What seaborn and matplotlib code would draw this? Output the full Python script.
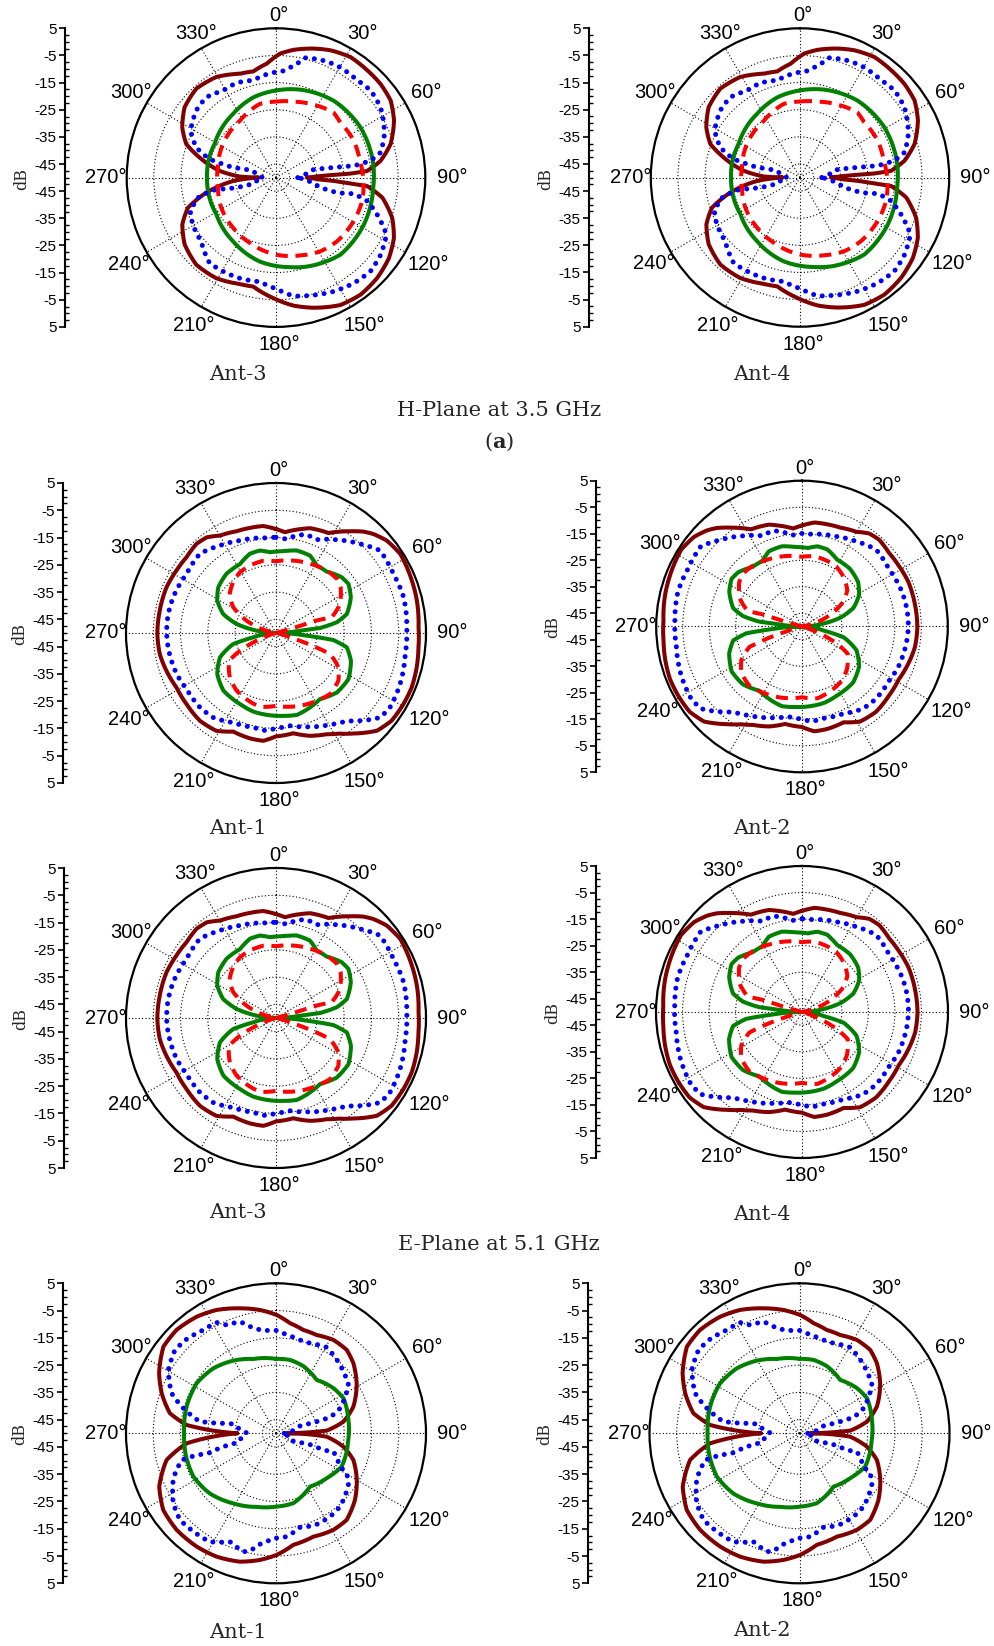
import numpy as np
import matplotlib
matplotlib.use("Agg")
import matplotlib.pyplot as plt
import seaborn as sns
from matplotlib.ticker import FixedLocator, MultipleLocator

# ---------------------------------------------------------------------------
# Radiation-pattern samples, listed along each trace as (angle deg, gain dB).
# Angles are clockwise from 0 deg at the top; they are kept continuous along
# each trace so the line does not jump across the 0/360 seam.
# ---------------------------------------------------------------------------

# H-plane at 3.5 GHz (Ant-3 / Ant-4)
h_brown = [(-90, -43.5), (-88.4, -36.7), (-83.2, -29.1), (-75.3, -20.9), (-69.5, -14.7),
           (-61.8, -10.8), (-52.4, -7.5), (-41.9, -6.0), (-30.7, -6.9), (-19.2, -9.5),
           (-12.1, -10.0), (-4.7, -7.9), (1.9, -4.3), (7.8, -2.5), (16.2, -0.5), (23.1, 1.0),
           (31.7, 2.2), (40.4, 1.9), (48.1, 1.7), (56.1, 0.9), (64.2, -1.7), (73.7, -6.0),
           (80.9, -11.0), (85.8, -16.3), (86.9, -22.6), (87.3, -28.8), (87.8, -33.7),
           (90, -38.6), (92.5, -34.0), (93.3, -28.8), (94.6, -22.5), (95.3, -16.3),
           (100.7, -10.1), (109.1, -4.7), (117.1, -1.2), (125.5, 1.1), (134.8, 2.5),
           (144.2, 3.2), (153.2, 2.6), (163.9, -0.1), (172.2, -2.4), (181.3, -5.6),
           (191.8, -9.0), (198.8, -8.6), (210.7, -6.9), (222.5, -6.5), (233.8, -8.3),
           (243.4, -11.4), (251.1, -15.7), (257.8, -23.7), (265.5, -34.2), (270, -43.5)]
h_blue = [(90, -42), (77.9, -36.5), (80.1, -28.4), (81.4, -21.0), (79.9, -14.7), (76.5, -10.4),
          (69.6, -7.5), (63.6, -5.6), (56.1, -3.6), (47.3, -2.6), (39.8, -3.3), (33.9, -3.1),
          (28.5, -3.0), (20.6, -3.6), (13.7, -4.6), (9.7, -8.0), (4.0, -10.6), (-5.2, -11.8),
          (-13.2, -13.2), (-22.7, -12.2), (-31.3, -12.5), (-41.0, -10.8), (-50.0, -11.6),
          (-61.2, -14.1), (-69.3, -18.6), (-74.5, -24.6), (-76.8, -33.8), (-73.6, -41.2),
          (-90, -45.3), (-105.2, -41.3), (-104.3, -35.0), (-101.1, -27.6), (-103.6, -21.0),
          (-111.3, -16.1), (-119.4, -14.8), (-130.4, -13.8), (-142.2, -10.1), (-152.6, -10.4),
          (-160.2, -10.6), (-171.2, -11.2), (-180.3, -9.0), (-188.4, -5.9), (-196.2, -4.8),
          (-206.8, -3.0), (-216.4, -1.7), (-225.2, -1.0), (-233.6, -2.1), (-242.7, -4.2),
          (-250.0, -10.4), (-255.6, -15.3), (-258.3, -20.7), (-256.1, -26.9), (-257.2, -33.3),
          (-270, -42)]
h_red = [(0, -22.0), (12.9, -21.3), (27.2, -19.8), (41.4, -18.0), (49.3, -18.8), (64.6, -18.3),
         (78.7, -18.5), (93.3, -17.7), (105.2, -17.1), (119.3, -17.2), (136.2, -17.5),
         (149, -18.3), (162.8, -20.0), (180, -21.6), (201.8, -24.1), (220.5, -25.7),
         (241.1, -27.0), (259.8, -28.3), (279.8, -28.3), (302.3, -26.9), (327.6, -25.2),
         (347.7, -22.2), (360, -22.0)]
h_green = [(0, -17.9), (15.4, -16.4), (36.8, -14.6), (59.2, -13.8), (78.2, -13.8), (95.9, -14.0),
           (118.1, -13.3), (140.1, -13.0), (160.8, -15.3), (171, -16.6), (190.9, -18.5),
           (214, -21.7), (238.3, -24.2), (270, -24.6), (286.7, -24.3), (298.7, -24.2),
           (326, -21.7), (344.2, -19.3), (360, -17.9)]

# E-plane at 5.1 GHz, Ant-1 / Ant-3
e1_brown = [(0, -11.9), (5.1, -12.9), (13.9, -10.7), (18.0, -9.6), (27.7, -8.6), (32, -6.2),
            (36.0, -3.9), (40.8, -0.9), (44.5, 0.9), (50.2, 2.9), (57.5, 4.0), (63.3, 3.7),
            (68.9, 3.4), (77.1, 3.0), (87.7, 2.3), (95.8, 2.5), (103.7, 3.1), (111.8, 3.6),
            (119.1, 3.5), (127.2, 3.2), (134.1, 1.5), (142.4, -3.5), (148, -6.5), (153.4, -8.5),
            (161.7, -10.3), (170.2, -12.7), (180, -12.1), (186.7, -10.2), (193.9, -10.2),
            (203.5, -10.6), (211.3, -8.0), (220.9, -7.4), (231.5, -8.1), (241.3, -8.4),
            (251, -7.5), (259.7, -6.7), (269.5, -6.5), (280.7, -6.6), (292.7, -6.5),
            (302.1, -6.9), (310.3, -7.0), (318.3, -6.2), (324.1, -6.7), (330.1, -8.8),
            (338.9, -10.0), (346.1, -10.3), (353.2, -10.5), (360, -11.9)]
e1_blue = [(0, -14.9), (6.5, -15.4), (12, -13.4), (17.3, -12.2), (23.5, -12.7), (33.1, -9.2),
           (43.3, -5.1), (51.6, -1.3), (63.3, -1.8), (74.4, -1.4), (87.5, -2.0), (99.2, -2.0),
           (112.4, -0.8), (123.1, -0.1), (129, -0.8), (133.8, -3.9), (141.1, -8.6),
           (149.5, -11.0), (161.9, -13.8), (171.4, -15.6), (180, -15.1), (185.5, -14.0),
           (193.5, -14.4), (205.5, -13.6), (216.6, -11.4), (225.6, -11.0), (237.9, -11.3),
           (247.6, -10.6), (262.4, -10.1), (269.5, -9.9), (280, -9.9), (289.2, -10.1),
           (303.4, -10.7), (316.1, -9.7), (327.3, -11.9), (338.7, -13.6), (354.4, -15.0),
           (360, -14.9)]
e1_red = [(75, -50), (73.9, -43.4), (72.6, -35.7), (74.3, -28.8), (65.6, -24.2), (54.8, -21.0),
          (48.3, -20.1), (39.1, -20.5), (26.2, -21.7), (13.5, -22.7), (0, -23.7), (-9.9, -23.1),
          (-21.1, -23.5), (-30.7, -24.1), (-40.1, -25.6), (-51.3, -28.1), (-59, -31.8),
          (-67.2, -38.3), (-75.3, -45.2), (-80, -50), (100, -50), (107.2, -44.6),
          (108.9, -36.8), (111.3, -28.7), (118.8, -23.9), (127.4, -21.2), (138.5, -20.1),
          (149, -21.0), (161.7, -21.9), (180, -23.3), (192.3, -22.3), (204, -23.4),
          (214.3, -24.4), (226, -26.5), (239.3, -30.0), (243.9, -35.3), (248.4, -42.4),
          (255, -50)]
e1_green = [(90, -50), (84.4, -41.2), (83.5, -33.7), (80, -27.4), (75, -23.1), (64.5, -19.6),
            (55.9, -17.9), (49.7, -18.4), (39.6, -20.8), (31.1, -21.1), (23.7, -19.0),
            (14.1, -18.8), (5.1, -19.9), (-4.3, -20.3), (-11, -19.2), (-18.2, -19.4),
            (-27.6, -21.5), (-39.9, -21.7), (-51.6, -23.0), (-61.1, -25.4), (-70.2, -29.4),
            (-77.1, -35.2), (-83.1, -42.9), (-90, -50), (-100.8, -41.6), (-104.5, -33.8),
            (-113.5, -27.6), (-125, -23.7), (-137.6, -21.4), (-153.1, -20.8), (-163.9, -20.0),
            (-173.5, -19.8), (-185.1, -19.5), (-194.2, -19.0), (-204.6, -20.0),
            (-213.7, -20.9), (-225.6, -18.8), (-237.5, -18.5), (-249.7, -20.7),
            (-258.5, -23.5), (-263, -28.8), (-265, -38.7), (-270, -50)]

# E-plane at 5.1 GHz, Ant-2 / Ant-4
e2_brown = [(0, -11.9), (-5.1, -12.9), (-13.9, -10.7), (-18.0, -9.6), (-27.7, -8.6), (-32, -6.2),
            (-36.0, -3.9), (-40.8, -0.9), (-44.5, 0.9), (-50.2, 2.9), (-57.5, 4.0),
            (-63.3, 3.7), (-68.9, 3.4), (-77.1, 3.0), (-87.7, 2.3), (-95.8, 2.5),
            (-103.7, 3.1), (-111.8, 3.6), (-119.1, 3.5), (-127.2, 3.2), (-134.1, 1.5),
            (-142.4, -3.5), (-148, -6.5), (-153.4, -8.5), (-161.7, -10.3), (-170.2, -12.7),
            (-180, -12.1), (-186.7, -10.2), (-193.9, -10.2), (-203.5, -10.6), (-211.3, -8.0),
            (-220.9, -7.4), (-231.5, -8.1), (-241.3, -8.4), (-251, -7.5), (-259.7, -6.7),
            (-269.5, -6.5), (-280.7, -6.6), (-292.7, -6.5), (-302.1, -6.9), (-310.3, -7.0),
            (-318.3, -6.2), (-324.1, -6.7), (-330.1, -8.8), (-338.9, -10.0), (-346.1, -10.3),
            (-353.2, -10.5), (-360, -11.9)]
e2_blue = [(0, -14.9), (-6.5, -15.4), (-12, -13.4), (-17.3, -12.2), (-23.5, -12.7),
           (-33.1, -9.2), (-43.3, -5.1), (-51.6, -1.3), (-63.3, -1.8), (-74.4, -1.4),
           (-87.5, -2.0), (-99.2, -2.0), (-112.4, -0.8), (-123.1, -0.1), (-129, -0.8),
           (-133.8, -3.9), (-141.1, -8.6), (-149.5, -11.0), (-161.9, -13.8), (-171.4, -15.6),
           (-180, -15.1), (-185.5, -14.0), (-193.5, -14.4), (-205.5, -13.6), (-216.6, -11.4),
           (-225.6, -11.0), (-237.9, -11.3), (-247.6, -10.6), (-262.4, -10.1), (-269.5, -9.9),
           (-280, -9.9), (-289.2, -10.1), (-303.4, -10.7), (-316.1, -9.7), (-327.3, -11.9),
           (-338.7, -13.6), (-354.4, -15.0), (-360, -14.9)]
e2_red = [(-75, -50), (-73.9, -43.4), (-72.6, -35.7), (-74.3, -28.8), (-65.6, -24.2),
          (-54.8, -21.0), (-48.3, -20.1), (-39.1, -20.5), (-26.2, -21.7), (-13.5, -22.7),
          (0, -23.7), (9.9, -23.1), (21.1, -23.5), (30.7, -24.1), (40.1, -25.6), (51.3, -28.1),
          (59, -31.8), (67.2, -38.3), (75.3, -45.2), (80, -50), (-100, -50), (-107.2, -44.6),
          (-108.9, -36.8), (-111.3, -28.7), (-118.8, -23.9), (-127.4, -21.2), (-138.5, -20.1),
          (-149, -21.0), (-161.7, -21.9), (-180, -23.3), (-192.3, -22.3), (-204, -23.4),
          (-214.3, -24.4), (-226, -26.5), (-239.3, -30.0), (-243.9, -35.3), (-248.4, -42.4),
          (-255, -50)]
e2_green = [(-90, -50), (-84.4, -41.2), (-83.5, -33.7), (-80, -27.4), (-75, -23.1),
            (-64.5, -19.6), (-55.9, -17.9), (-49.7, -18.4), (-39.6, -20.8), (-31.1, -21.1),
            (-23.7, -19.0), (-14.1, -18.8), (-5.1, -19.9), (4.3, -20.3), (11, -19.2),
            (18.2, -19.4), (27.6, -21.5), (39.9, -21.7), (51.6, -23.0), (61.1, -25.4),
            (70.2, -29.4), (77.1, -35.2), (83.1, -42.9), (90, -50), (100.8, -41.6),
            (104.5, -33.8), (113.5, -27.6), (125, -23.7), (137.6, -21.4), (153.1, -20.8),
            (163.9, -20.0), (173.5, -19.8), (185.1, -19.5), (194.2, -19.0), (204.6, -20.0),
            (213.7, -20.9), (225.6, -18.8), (237.5, -18.5), (249.7, -20.7), (258.5, -23.5),
            (263, -28.8), (265, -38.7), (270, -50)]

# Bottom pair (Ant-1 / Ant-2)
f_brown = [(-90, -35.8), (-87.6, -27.0), (-84.7, -17.1), (-79.3, -10.4), (-70.7, -5.6),
           (-62.8, -1.8), (-52.4, 2.1), (-43.9, 2.6), (-34.2, 1.7), (-25.7, 0.2), (-16.1, -2.3),
           (-7.4, -4.4), (0.3, -6.6), (7.3, -9.3), (14.8, -10.8), (22.5, -11.0), (31.6, -9.8),
           (40.3, -9.9), (47.8, -11.7), (58.2, -15.2), (71, -20.0), (80.2, -24.9), (87, -31.4),
           (88.5, -38.8), (90, -46.1), (91.5, -38.8), (93.8, -31.4), (101.2, -24.8),
           (109, -20.0), (120, -15.8), (130.2, -12.1), (140.8, -9.0), (149.3, -8.8),
           (160.1, -9.7), (171.2, -8.6), (179.7, -5.4), (187.2, -3.2), (195.7, -1.1),
           (205.7, 0.2), (215, 0.7), (225.8, 0.8), (235.8, 0.0), (245.4, -2.9), (256.3, -8.7),
           (263.6, -17.0), (267, -27.0), (270, -35.8)]
f_blue = [(90, -47), (73, -40.8), (74.1, -35.8), (73.5, -29.3), (68.7, -24.8), (59.5, -19.9),
          (55.3, -17.7), (49.8, -16.9), (39.6, -15.0), (30.5, -13.4), (20.7, -14.7),
          (14.4, -14.7), (6.2, -13.7), (0.4, -12.3), (-7, -12.1), (-12.2, -10.6), (-17.9, -7.0),
          (-24.5, -6.4), (-28.2, -3.9), (-35.1, -3.7), (-43.5, -2.4), (-50.5, -2.0),
          (-59.5, -4.2), (-69, -9.0), (-74.2, -14.1), (-81.3, -21.8), (-80.4, -27.9),
          (-77.7, -34.0), (-89, -39.2), (-103.4, -35.8), (-104.2, -30.1), (-106.5, -24.1),
          (-105.3, -19.8), (-105.8, -14.1), (-113.7, -8.9), (-124.3, -4.4), (-132.1, -2.6),
          (-138.9, -2.9), (-148.6, -3.4), (-157, -6.8), (-164.6, -5.0), (-167.5, -5.8),
          (-171, -8.6), (-178.5, -11.5), (-185.9, -11.9), (-194.3, -14.4), (-203.1, -13.4),
          (-213, -13.6), (-221.1, -14.3), (-234.5, -17.4), (-240.5, -20.2), (-242.5, -23.6),
          (-252.3, -27.9), (-250.6, -31.5), (-251.9, -38.1), (-244.5, -44.3), (-270, -47)]
f_green = [(0, -22.7), (10.8, -22.6), (22.1, -23.4), (37.3, -25.4), (51.9, -23.2), (62.5, -22.1),
           (79.6, -23.0), (95.3, -23.4), (116.9, -23.0), (131.6, -25.2), (147.5, -26.8),
           (166.1, -23.6), (180, -23.1), (194.8, -22.1), (211.4, -19.9), (227.7, -17.2),
           (242.3, -15.8), (257.5, -16.0), (270, -16.3), (286.6, -15.8), (302.2, -15.6),
           (316, -16.9), (329.6, -19.1), (343, -21.5), (360, -22.7)]

angle_ticks = list(range(0, 360, 30))
db_ticks = [5, -5, -15, -25, -35, -45]

# ---------------------------------------------------------------------------
sns.set_theme(style="ticks")
plt.rcParams["font.family"] = ["Liberation Sans", "DejaVu Sans"]
plt.rcParams["mathtext.fontset"] = "dejavuserif"
SERIF = ["DejaVu Serif"]

W, H = 994, 1646
fig = plt.figure(figsize=(W / 100, H / 100), dpi=100)
fig.patch.set_facecolor("white")

BROWN = dict(color="#800000", linewidth=2.9, solid_joinstyle="round", solid_capstyle="round")
GREEN = dict(color="#008000", linewidth=2.9, solid_joinstyle="round")
RED = dict(color="#FF0000", linewidth=2.9, linestyle=(0, (3.0, 1.9)))
BLUE = dict(color="#0000FF", linewidth=3.6, linestyle=(0, (0.01, 1.75)), dash_capstyle="round")


def draw_trace(ax, pts, style):
    deg, db = np.asarray(pts, dtype=float).T
    sns.lineplot(x=np.deg2rad(deg), y=db, sort=False, estimator=None, ax=ax,
                 legend=False, **style)
    # let the polar transform follow each segment as an arc in (theta, r)
    ax.lines[-1].get_path()._interpolation_steps = 12


def polar_panel(cx, cy, R, dbx, traces):
    ax = fig.add_axes([(cx - R) / W, (H - cy - R) / H, 2 * R / W, 2 * R / H],
                      projection="polar")
    ax.set_facecolor("white")
    for pts, style in traces:
        draw_trace(ax, pts, style)
    ax.set_theta_zero_location("N")
    ax.set_theta_direction(-1)
    ax.set_ylim(-50, 5)
    ax.set_yticks([-45, -35, -25, -15, -5])
    ax.set_yticklabels([])
    ax.set_xticks(np.deg2rad(angle_ticks))
    ax.set_xticklabels([])
    ax.set_xticks(np.deg2rad(np.arange(15, 360, 30)), minor=True)
    ax.grid(True, which="major", color="black", linestyle=(0, (1, 2)), linewidth=0.8)
    ax.tick_params(axis="x", which="both", direction="in", length=5, width=1.2,
                   colors="black")
    ax.spines["polar"].set_linewidth(1.6)
    ax.spines["polar"].set_color("black")
    ax.set_xlabel("")
    ax.set_ylabel("")
    for a in angle_ticks:
        t = np.deg2rad(a)
        off = 15 + 8.5 * abs(np.sin(t)) - 2.5 * np.cos(t)
        ax.annotate(f"{a}°", xy=(t, 5), xycoords="data",
                    xytext=(off * np.sin(t) + 3, off * np.cos(t)), textcoords="offset pixels",
                    ha="center", va="center", fontsize=14.5, color="black",
                    annotation_clip=False)

    # mirrored dB scale beside the polar plot
    axd = fig.add_axes([dbx / W, (H - cy - R) / H, 0.0004, 2 * R / H])
    axd.patch.set_visible(False)
    for s in ("top", "right", "bottom"):
        axd.spines[s].set_visible(False)
    axd.spines["left"].set_linewidth(1.5)
    axd.spines["left"].set_color("black")
    axd.set_xticks([])
    axd.set_ylim(-55, 55)
    pos = [v + 50 for v in db_ticks] + [-(v + 50) for v in db_ticks]
    labs = [str(v) for v in db_ticks] * 2
    axd.yaxis.set_major_locator(FixedLocator(pos))
    axd.set_yticklabels(labs)
    axd.yaxis.set_minor_locator(MultipleLocator(2.5))
    axd.tick_params(axis="y", which="major", direction="out", length=4, width=1.2,
                    labelsize=11, pad=2, colors="black")
    axd.tick_params(axis="y", which="minor", direction="in", length=3, width=1.0,
                    colors="black")
    fig.text((dbx - 43) / W, 1 - (cy + 1) / H, "dB", rotation=90, ha="center", va="center",
             family=SERIF, fontsize=11.5)
    return ax


H_SET = [(h_brown, BROWN), (h_green, GREEN), (h_blue, BLUE), (h_red, RED)]
E1_SET = [(e1_brown, BROWN), (e1_green, GREEN), (e1_blue, BLUE), (e1_red, RED)]
E2_SET = [(e2_brown, BROWN), (e2_green, GREEN), (e2_blue, BLUE), (e2_red, RED)]
F_SET = [(f_brown, BROWN), (f_green, GREEN), (f_blue, BLUE)]

panels = [
    (276, 177.6, 149.3, 65, H_SET, "Ant-3", 238, 375),
    (800, 177.5, 149.2, 589, H_SET, "Ant-4", 762, 375),
    (276, 633, 150, 63, E1_SET, "Ant-1", 238, 828),
    (802, 626.5, 145.8, 596, E2_SET, "Ant-2", 762, 828),
    (276, 1018, 150, 64, E1_SET, "Ant-3", 238, 1213),
    (802, 1012, 146, 596, E2_SET, "Ant-4", 762, 1215),
    (276, 1433.3, 150, 63, F_SET, "Ant-1", 238, 1632),
    (799.5, 1433.3, 150, 588, F_SET, "Ant-2", 762, 1630),
]

for cx, cy, R, dbx, traces, name, lx, ly in panels:
    polar_panel(cx, cy, R, dbx, traces)
    fig.text(lx / W, 1 - ly / H, name, ha="center", va="center", family=SERIF, fontsize=15)

fig.text(499 / W, 1 - 410 / H, "H-Plane at 3.5 GHz", ha="center", va="center",
         family=SERIF, fontsize=15)
fig.text(499 / W, 1 - 442 / H, r"($\mathbf{a}$)", ha="center", va="center",
         family=SERIF, fontsize=15)
fig.text(499 / W, 1 - 1245 / H, "E-Plane at 5.1 GHz", ha="center", va="center",
         family=SERIF, fontsize=15)

fig.savefig("out.png", dpi=100, facecolor="white")
